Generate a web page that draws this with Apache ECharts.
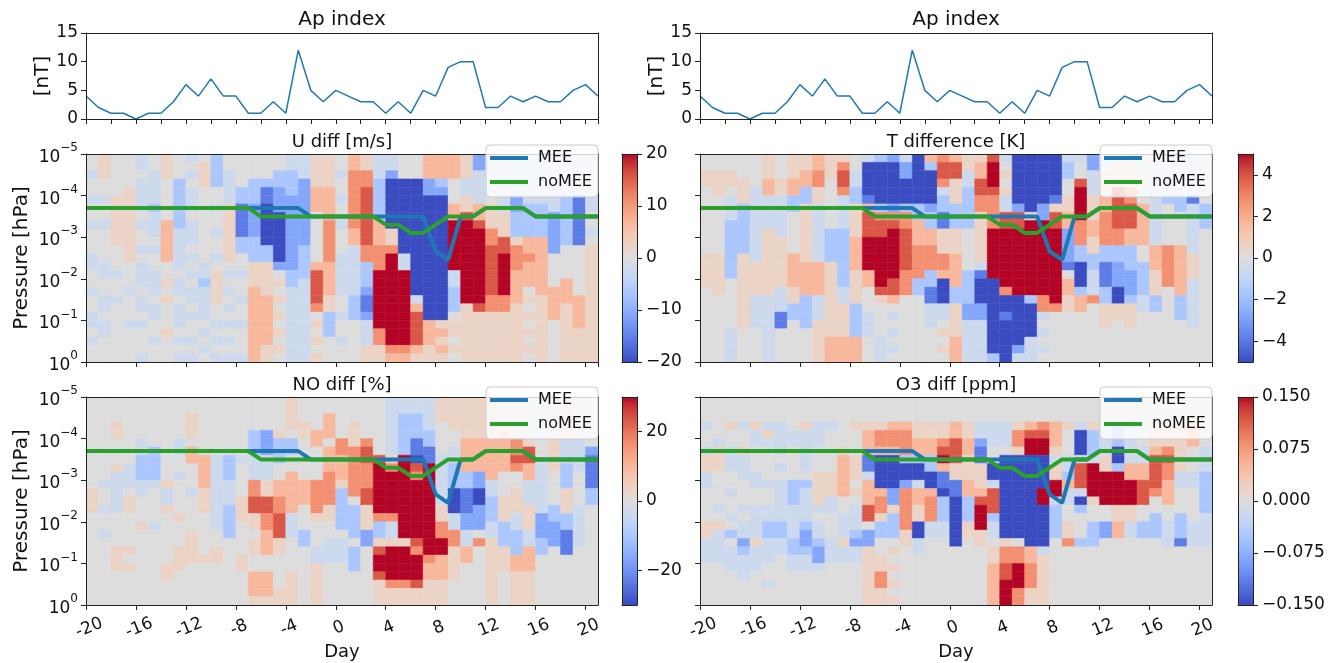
<!DOCTYPE html>
<html>
<head>
<meta charset="utf-8">
<script src="https://cdn.jsdelivr.net/npm/echarts@6/dist/echarts.min.js"></script>
<style>
html, body { margin: 0; padding: 0; background: #fff; }
#chart { width: 1340px; height: 663px; }
</style>
</head>
<body>
<div id="chart"></div>
<script>
// days of the Ap index and of the two boundary lines
var days = [-20,-19,-18,-17,-16,-15,-14,-13,-12,-11,-10,-9,-8,-7,-6,-5,-4,-3,-2,-1,0,
            1,2,3,4,5,6,7,8,9,10,11,12,13,14,15,16,17,18,19,20,21];
var apIndex = [4,2,1,1,0,1,1,3,6,4,7,4,4,1,1,3,1,12,5,3,5,
               4,3,3,1,3,1,5,4,9,10,10,2,2,4,3,4,3,3,5,6,4];
// pressure [hPa] of the MEE / noMEE lines
var meeP = [2.0e-4,2.0e-4,2.0e-4,2.0e-4,2.0e-4,2.0e-4,2.0e-4,2.0e-4,2.0e-4,2.0e-4,2.0e-4,2.0e-4,2.0e-4,2.0e-4,2.0e-4,2.0e-4,2.0e-4,2.0e-4,
            3.16e-4,3.16e-4,3.16e-4,3.16e-4,3.16e-4,3.16e-4,3.16e-4,3.16e-4,3.16e-4,3.16e-4,
            2.2e-3,3.5e-3,3.16e-4,3.16e-4,2.0e-4,2.0e-4,2.0e-4,2.0e-4,3.16e-4,3.16e-4,3.16e-4,3.16e-4,3.16e-4,3.16e-4];
var noMeeP = [2.0e-4,2.0e-4,2.0e-4,2.0e-4,2.0e-4,2.0e-4,2.0e-4,2.0e-4,2.0e-4,2.0e-4,2.0e-4,2.0e-4,2.0e-4,2.0e-4,
              3.16e-4,3.16e-4,3.16e-4,3.16e-4,3.16e-4,3.16e-4,3.16e-4,3.16e-4,3.16e-4,3.16e-4,
              5.0e-4,5.0e-4,7.9e-4,7.9e-4,5.0e-4,3.16e-4,3.16e-4,3.16e-4,2.0e-4,2.0e-4,2.0e-4,2.0e-4,
              3.16e-4,3.16e-4,3.16e-4,3.16e-4,3.16e-4,3.16e-4];

// heatmap columns: each starts at this day and is one day wide
var cellDays = [-20,-19,-18,-17,-16,-15,-14,-13,-12,-11,-10,-9,-8,-7,-6,-5,-4,-3,-2,-1,0,
                1,2,3,4,5,6,7,8,9,10,11,12,13,14,15,16,17,18,19,20];
// pressure edges of the 25 rows, top to bottom [hPa]
var levelEdges = [1e-5,1.585e-5,2.512e-5,3.981e-5,6.310e-5,1e-4,1.585e-4,2.512e-4,3.981e-4,6.310e-4,
                  1e-3,1.585e-3,2.512e-3,3.981e-3,6.310e-3,1e-2,1.585e-2,2.512e-2,3.981e-2,6.310e-2,
                  0.1,0.1585,0.2512,0.3981,0.6310,1];
// one char per cell, '0' = full blue ... '5' = zero ... 'A' = full red (fraction of colour range)
var levelValue = [-1, -0.78, -0.55, -0.33, -0.12, 0, 0.12, 0.33, 0.55, 0.78, 1];

// each string is one day's profile, top (1e-5 hPa) to bottom (1 hPa)
var uDiffCols = [
  '5545545545554455455445455','6665545545555445544544555','5555566666655545545555555','5555666666666555455545555',
  '4454444545545444544545554','5544443444545544454455455','6665555577777556565556555','5553333334444454454445454',
  '4545444544454545445455454','5666555555555443444454545','3333554554554566665545454','5544446666666545454545454',
  '5555331111335545545545554','5553332222333666777777777','5553110000033666677777766','5533222000000256565656565',
  '4433322222222233444444444','4442222222233334444444444','6666777555555799998565656','6666777788888777766333555',
  '5545545545554444455455455','7788888887744444433355555','6688999999988333211244466','44433333777888AAAAAAA8866',
  '442000000668AAAAAAAAAAA87','55500000000044AAAAAAAAA87','5550000000000000047999976','7772200000000000000077766',
  '7773200000000000000067676','77755577AAAAAA44333566565','66644669AAAAAAAAAA6666666','224444779AAAAAAAAA9666666',
  '4545456668899999988666666','444444466699AAAAA88666666','4444422333688877776666666','4444443333778777565656565',
  '4444443333777777766666666','4444444222225555777755555','4444433333355557776666666','4444411111155555577776666',
  '5545544554566666666666666'
];
var tDiffCols = [
  '5566555555556666555555555','5566655555556666655555555','5566544433333335555554444','5556663333336666666665555',
  '5555444444444666644445555','6667744446666666644444444','5556644444666666444115555','6667733555557777663355555',
  '6677336666666777733335555','7788664444444777744466666','6665555553333666666666777','6899844443333333446666777',
  '5544336666777766663333777','4000017999AAAA77555444555','3000003899AAAAAA965555444','200000289AAAAAA9975454545',
  '4220003889999988855555555','0000003377788883355555555','7300002337788833114445555','8998433116668870004456565',
  '7996663336667777336666777','6644333335555533332244444','6779988666666410002244444','9AAA98888AAAAAA0000000003',
  '456564499AAAAAAA800100000','000000299AAAAAAAA00000024','00000006AAAAAAAAA30000444','00000022AAAAAAAAA88454545',
  '000001699AAAAAAAAA8555555','4335566772222157766555555','4559AAAA88833000377555555','2244466677663344485555555',
  '4466677888833111336665555','6666999998833222006655555','6666889997733322236665555','5555557777755333344555555',
  '4444444444477766633555555','4444435555588888555555555','4444433555577777733355555','4444414444446664444445555',
  '5555553335555555555555555'
];
var noDiffCols = [
  '5555555555566655555555555','5555555555455455455555555','5556655564444455556665555','5555555544456655556565555',
  '5555544333445556555555555','5555553333455554555555555','5555555555644655555566555','5555544554555565556665555',
  '5566657755545555666655555','5555555777766655555655555','5555555444444444556655555','5555555333444333355555555',
  '5555555455556665555665555','5555333444889966566557776','5555222444669988777557776','5555633355778899966555566',
  '6666533557777744455556666','5556655555777555335555555','5555775555888865554466666','5577757778888665544455555',
  '5555588777633333544455555','5556668888885333353335555','5555589988899666225555555','55555559AAAAAA83369AA9666',
  '444444468AAAAA8446AAAA866','4433333AAAAAAAAAA6AAAA866','4433311098AAAAAAA98AAA966','44443311AAAAAAAAAAA877666',
  '66655554444446688AA777666','6666554433300044886666555','6666677773311122447755555','6666677772200222585555555',
  '6666677777443334466666666','5555777775556663336665555','5555588985566644333776666','5555569977444666447776666',
  '4444455544444422233555555','5555566665555332225555555','6666644433366633111555555','5555544445555444445555555',
  '5555552111133555555555555'
];
var o3DiffCols = [
  '5554554664455556644455555','5555546665555456444455555','5556554445545545354445555','5554556444555454423444555',
  '5556445554455444464445555','5554645555455443344455455','5554444545444443344555555','5555445555333444433445555',
  '5556444445344443223445555','5554445556666454432245555','5554555556664455544455555','5555556777775544464455555',
  '5556555666565444324455555','5556777114777995226666666','5556887000078863355668866','5557887000022633356565656',
  '5557888300288888665555555','5556677300477660044555555','5556677330078884455555555','5556689A71103334455555555',
  '5557799966110000005555555','5556677666773336655555555','5554421166679AAA665555555','5554445500499934456677777',
  '5554445000000000068899AAA','55568860000000000588AAA88','55579AA000000000007788866','55589AA0000AA000004666666',
  '5557776466AA4333355555555','5556555443744556685555555','5554000499940355535555555','55563334AAAA6553335555555',
  '555444466AAAA552255555555','555333003AAAA667755555555','5554444477AAA664455555555','5555554477999553355555555',
  '5556667999985533355555555','5556668988777554445555555','5556666664455533315555555','5557775554455554445555555',
  '5555554443333344445555555'
];

var coolwarm = ['#3b4cc0','#445acc','#4d68d7','#5775e1','#6282ea','#6c8ef1','#779af7','#82a5fb','#8db0fe',
  '#98b9ff','#a3c2ff','#aec9fd','#b8d0f9','#c2d5f4','#ccd9ee','#d5dbe6','#dddddd','#e5d8d1','#ecd3c5',
  '#f1ccb9','#f5c4ad','#f7bba0','#f7b194','#f7a687','#f49a7b','#f18d6f','#ec7f63','#e57058','#de604d',
  '#d55042','#cb3e38','#c0282f','#b40426'];

var FONT = 'DejaVu Sans';
var INK = '#222';

function buildCells(cols, vmax) {
  var out = [];
  for (var c = 0; c < cols.length; c++) {
    var s = cols[c];
    for (var r = 0; r < s.length && r < levelEdges.length - 1; r++) {
      out.push([cellDays[c], levelEdges[r], levelEdges[r + 1], levelValue[parseInt(s[r], 11)] * vmax]);
    }
  }
  return out;
}

function cellItem(params, api) {
  var a = api.coord([api.value(0), api.value(1)]);
  var b = api.coord([api.value(0) + 1, api.value(2)]);
  var col = api.visual('color');
  return {
    type: 'rect',
    shape: { x: a[0], y: Math.min(a[1], b[1]), width: b[0] - a[0], height: Math.abs(b[1] - a[1]) },
    style: { fill: col, stroke: col, lineWidth: 0.5 }
  };
}

function cbarItem(params, api) {
  var a = api.coord([0, api.value(1)]);
  var b = api.coord([1, api.value(0)]);
  var stops = coolwarm.map(function (c, i) { return { offset: i / (coolwarm.length - 1), color: c }; });
  return {
    type: 'rect',
    shape: { x: a[0], y: a[1], width: b[0] - a[0], height: b[1] - a[1] },
    style: { fill: new echarts.graphic.LinearGradient(0, 1, 0, 0, stops) }
  };
}

function minus(s) { return String(s).replace('-', '\u2212'); }

var tickStyle = { show: true, length: 5, lineStyle: { color: INK, width: 1 } };
var lineStyle = { show: true, onZero: false, lineStyle: { color: INK, width: 1 } };
var labelBase = { color: '#111', fontSize: 17, fontFamily: FONT };
var nameStyle = { fontSize: 20, fontFamily: FONT, color: '#111' };

var grids = [], xAxes = [], yAxes = [], series = [], visualMaps = [];

function addGrid(left, top, width, height) {
  grids.push({ left: left, top: top, width: width, height: height, outerBoundsMode: 'none', containLabel: false });
  return grids.length - 1;
}
// top / right spines
function addFrame(gi, xmin, xmax, ytype, ymin, ymax, inverse) {
  xAxes.push({ gridIndex: gi, type: 'value', position: 'top', min: xmin, max: xmax, axisLine: lineStyle,
    axisTick: { show: false }, axisLabel: { show: false }, splitLine: { show: false }, z: 10 });
  yAxes.push({ gridIndex: gi, type: ytype, position: 'right', min: ymin, max: ymax, inverse: !!inverse, axisLine: lineStyle,
    axisTick: { show: false }, axisLabel: { show: false }, splitLine: { show: false }, z: 10 });
}

// ---- Ap index panels
[86, 700].forEach(function (left) {
  var gi = addGrid(left, 33, 512, 86);
  xAxes.push({ gridIndex: gi, type: 'value', min: -20, max: 21, interval: 2, axisLine: lineStyle, axisTick: tickStyle,
    axisLabel: { show: false }, splitLine: { show: false }, z: 10 });
  yAxes.push({ gridIndex: gi, type: 'value', min: 0, max: 15, interval: 5, axisLine: lineStyle, axisTick: tickStyle,
    axisLabel: Object.assign({ margin: 8 }, labelBase), splitLine: { show: false }, z: 10,
    name: '[nT]', nameLocation: 'middle', nameRotate: 90, nameGap: 33, nameTextStyle: nameStyle });
  var xi = xAxes.length - 1, yi = yAxes.length - 1;
  addFrame(gi, -20, 21, 'value', 0, 15);
  series.push({ type: 'line', name: 'Ap', xAxisIndex: xi, yAxisIndex: yi, showSymbol: false, silent: true,
    data: days.map(function (d, i) { return [d, apIndex[i]]; }),
    lineStyle: { color: '#1f77b4', width: 1.5 }, itemStyle: { color: '#1f77b4' } });
});

// ---- difference panels
var panels = [
  { cols: uDiffCols, vmax: 20, left: 86, top: 154, cbLeft: 622, labelsY: true, labelsX: false, cb: { interval: 10 } },
  { cols: tDiffCols, vmax: 5, left: 700, top: 154, cbLeft: 1238, labelsY: false, labelsX: false, cb: { custom: [-4, -2, 0, 2, 4] } },
  { cols: noDiffCols, vmax: 30, left: 86, top: 397, cbLeft: 622, labelsY: true, labelsX: true, cb: { custom: [-20, 0, 20] } },
  { cols: o3DiffCols, vmax: 0.15, left: 700, top: 397, cbLeft: 1238, labelsY: false, labelsX: true, cb: { interval: 0.075, digits: 3 } }
];

panels.forEach(function (p) {
  var gi = addGrid(p.left, p.top, 512, 208);
  xAxes.push({ gridIndex: gi, type: 'value', min: -20, max: 21, interval: 4, axisLine: lineStyle, axisTick: tickStyle,
    splitLine: { show: false }, z: 10,
    axisLabel: p.labelsX ? Object.assign({ rotate: 22, margin: 15, align: 'center', verticalAlign: 'top' }, labelBase) : { show: false },
    name: p.labelsX ? 'Day' : '', nameLocation: 'middle', nameGap: 38,
    nameTextStyle: { fontSize: 18, fontFamily: FONT, color: '#111' } });
  yAxes.push({ gridIndex: gi, type: 'log', logBase: 10, min: 1e-5, max: 1, inverse: true, axisLine: lineStyle, axisTick: tickStyle,
    splitLine: { show: false }, z: 10,
    axisLabel: p.labelsY ? {
      margin: 8, fontFamily: FONT, color: '#111',
      formatter: function (v) {
        var e = Math.round(Math.log(v) / Math.LN10);
        return '{b|10}{s|' + minus(e) + '}';
      },
      rich: {
        b: { fontSize: 17, fontFamily: FONT, color: '#111', lineHeight: 24, verticalAlign: 'bottom' },
        s: { fontSize: 12, fontFamily: FONT, color: '#111', lineHeight: 12, verticalAlign: 'top' }
      }
    } : { show: false },
    name: p.labelsY ? 'Pressure [hPa]' : '', nameLocation: 'middle', nameRotate: 90, nameGap: 54,
    nameTextStyle: nameStyle });
  var xi = xAxes.length - 1, yi = yAxes.length - 1;
  addFrame(gi, -20, 21, 'log', 1e-5, 1, true);

  series.push({ type: 'custom', name: 'diff', xAxisIndex: xi, yAxisIndex: yi, renderItem: cellItem, clip: true, silent: true,
    dimensions: ['day', 'pTop', 'pBot', 'val'], encode: { x: 0, y: [1, 2] }, data: buildCells(p.cols, p.vmax), z: 1 });
  visualMaps.push({ type: 'continuous', show: false, seriesIndex: series.length - 1, dimension: 3,
    min: -p.vmax, max: p.vmax, inRange: { color: coolwarm } });
  series.push({ type: 'line', name: 'MEE', xAxisIndex: xi, yAxisIndex: yi, showSymbol: false, silent: true, z: 3,
    data: days.map(function (d, i) { return [d, meeP[i]]; }),
    lineStyle: { color: '#1f77b4', width: 4 }, itemStyle: { color: '#1f77b4' } });
  series.push({ type: 'line', name: 'noMEE', xAxisIndex: xi, yAxisIndex: yi, showSymbol: false, silent: true, z: 4,
    data: days.map(function (d, i) { return [d, noMeeP[i]]; }),
    lineStyle: { color: '#2ca02c', width: 4 }, itemStyle: { color: '#2ca02c' } });

  // colour bar
  var cg = addGrid(p.cbLeft, p.top, 15, 208);
  xAxes.push({ gridIndex: cg, type: 'value', min: 0, max: 1, axisLine: lineStyle, axisTick: { show: false },
    axisLabel: { show: false }, splitLine: { show: false }, z: 10 });
  var cbAxis = { gridIndex: cg, type: 'value', position: 'right', min: -p.vmax, max: p.vmax, axisLine: lineStyle,
    splitLine: { show: false }, z: 10,
    axisTick: Object.assign({}, tickStyle),
    axisLabel: Object.assign({ margin: 9, formatter: function (v) {
      return minus(p.cb.digits ? (+v).toFixed(p.cb.digits) : String(Math.round(v)));
    } }, labelBase) };
  if (p.cb.custom) {
    cbAxis.axisTick.customValues = p.cb.custom;
    cbAxis.axisLabel.customValues = p.cb.custom;
  } else {
    cbAxis.interval = p.cb.interval;
  }
  yAxes.push(cbAxis);
  var cxi = xAxes.length - 1, cyi = yAxes.length - 1;
  xAxes.push({ gridIndex: cg, type: 'value', position: 'top', min: 0, max: 1, axisLine: lineStyle,
    axisTick: { show: false }, axisLabel: { show: false }, splitLine: { show: false }, z: 10 });
  yAxes.push({ gridIndex: cg, type: 'value', position: 'left', min: -p.vmax, max: p.vmax, axisLine: lineStyle,
    axisTick: { show: false }, axisLabel: { show: false }, splitLine: { show: false }, z: 10 });
  series.push({ type: 'custom', name: 'cbar', xAxisIndex: cxi, yAxisIndex: cyi, renderItem: cbarItem, silent: true,
    encode: { y: [0, 1] }, data: [[-p.vmax, p.vmax]], z: 1 });
});

function legendAt(left, top) {
  return {
    data: ['MEE', 'noMEE'], orient: 'vertical', left: left, top: top, icon: 'rect',
    itemWidth: 38, itemHeight: 4, itemGap: 4, padding: [3, 6, 5, 4], selectedMode: false,
    backgroundColor: 'rgba(255,255,255,0.8)', borderColor: '#cccccc', borderWidth: 1, borderRadius: 4,
    textStyle: { fontSize: 16, fontFamily: FONT, color: '#111', lineHeight: 20, padding: [0, 0, 0, 5] }, z: 20
  };
}

function title(text, x, y, size) {
  return { type: 'text', x: x, y: y, z: 30,
    style: { text: text, font: (size || 18) + 'px "' + FONT + '"', fill: '#111', textAlign: 'center', textVerticalAlign: 'middle' } };
}

var chart = echarts.init(document.getElementById('chart'), null, { renderer: 'canvas' });
chart.setOption({
  animation: false,
  backgroundColor: '#fff',
  textStyle: { fontFamily: FONT },
  grid: grids,
  xAxis: xAxes,
  yAxis: yAxes,
  visualMap: visualMaps,
  legend: [legendAt(486, 145), legendAt(1100, 145), legendAt(486, 387), legendAt(1100, 387)],
  graphic: [
    title('Ap index', 342, 20, 20), title('Ap index', 956, 20, 20),
    title('U diff [m/s]', 342, 142), title('T difference [K]', 956, 142),
    title('NO diff [%]', 342, 385), title('O3 diff [ppm]', 956, 385)
  ],
  series: series
});
</script>
</body>
</html>
